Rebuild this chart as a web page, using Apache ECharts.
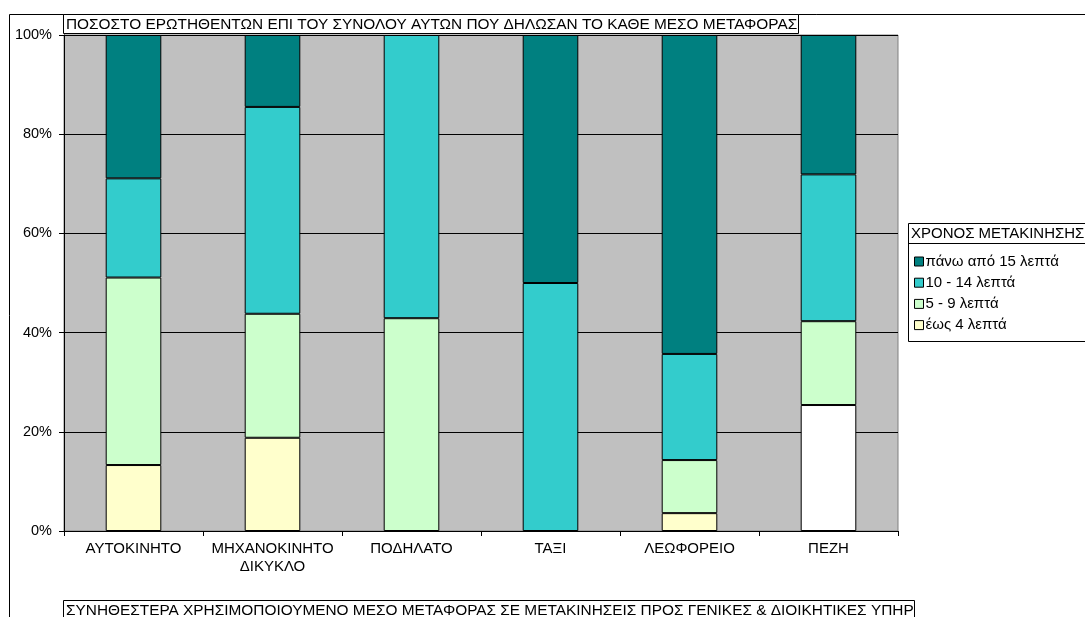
<!DOCTYPE html>
<html>
<head>
<meta charset="utf-8">
<script src="https://cdn.jsdelivr.net/npm/echarts@6/dist/echarts.min.js"></script>
<style>
  html, body { margin: 0; padding: 0; background: #fff; }
  #chart { width: 1085px; height: 617px; }
</style>
</head>
<body>
<div id="chart"></div>
<script>
// Transport mode categories (x axis)
const categories = ['ΑΥΤΟΚΙΝΗΤΟ', 'ΜΗΧΑΝΟΚΙΝΗΤΟ\nΔΙΚΥΚΛΟ', 'ΠΟΔΗΛΑΤΟ', 'ΤΑΞΙ', 'ΛΕΩΦΟΡΕΙΟ', 'ΠΕΖΗ'];

// Share (%) of respondents per travel-time band; null = no respondents
const upTo4 = [13.3, 18.8, null, null, 3.6, 25.4];
const min5to9 = [37.8, 25.0, 42.9, null, 10.7, 16.9];
const min10to14 = [20.0, 41.7, 57.1, 50.0, 21.4, 29.6];
const over15 = [28.9, 14.5, null, 50.0, 64.3, 28.1];

const seriesNames = ['έως 4 λεπτά', '5 - 9 λεπτά', '10 - 14 λεπτά', 'πάνω από 15 λεπτά'];
const yTicks = [0, 20, 40, 60, 80, 100];

const mainTitle = 'ΠΟΣΟΣΤΟ ΕΡΩΤΗΘΕΝΤΩΝ ΕΠΙ ΤΟΥ ΣΥΝΟΛΟΥ ΑΥΤΩΝ ΠΟΥ ΔΗΛΩΣΑΝ ΤΟ ΚΑΘΕ ΜΕΣΟ ΜΕΤΑΦΟΡΑΣ';
// caption as it fits inside its fixed-width box
const subTitle = 'ΣΥΝΗΘΕΣΤΕΡΑ ΧΡΗΣΙΜΟΠΟΙΟΥΜΕΝΟ ΜΕΣΟ ΜΕΤΑΦΟΡΑΣ ΣΕ ΜΕΤΑΚΙΝΗΣΕΙΣ ΠΡΟΣ ΓΕΝΙΚΕΣ & ΔΙΟΙΚΗΤΙΚΕΣ ΥΠΗΡ';
const legendTitle = 'ΧΡΟΝΟΣ ΜΕΤΑΚΙΝΗΣΗΣ';

const colors = ['#FFFFCC', '#CCFFCC', '#33CCCC', '#008080'];
const FONT = '"Liberation Sans", Arial, sans-serif';

// The walking column's shortest band is drawn in white
const upTo4Data = upTo4.map((v, i) => i === 5 ? { value: v, itemStyle: { color: '#FFFFFF' } } : v);

const allData = [upTo4Data, min5to9, min10to14, over15];

const chart = echarts.init(document.getElementById('chart'), null, { renderer: 'canvas' });

const option = {
  animation: false,
  textStyle: { fontFamily: FONT },
  title: [
    {
      text: mainTitle,
      left: 63, top: 14,
      padding: [2, 2, 1, 3],
      backgroundColor: '#fff',
      borderColor: '#000',
      borderWidth: 1,
      textStyle: { fontFamily: FONT, fontSize: 15.4, fontWeight: 'normal', color: '#000', lineHeight: 17 }
    },
    {
      text: subTitle,
      left: 63, top: 600,
      padding: [2, 1, 1, 3],
      backgroundColor: '#fff',
      borderColor: '#000',
      borderWidth: 1,
      textStyle: { fontFamily: FONT, fontSize: 15.4, fontWeight: 'normal', color: '#000', lineHeight: 17 }
    }
  ],
  graphic: [
    // outer chart frame (left and top edges)
    { type: 'polyline', silent: true, z: 0,
      shape: { points: [[9.5, 617], [9.5, 14.5], [1085, 14.5]] },
      style: { stroke: '#000', lineWidth: 1, fill: null } },
    // legend box
    { type: 'rect', silent: true, z: 0,
      shape: { x: 908.5, y: 223.5, width: 200, height: 118 },
      style: { fill: '#fff', stroke: '#000', lineWidth: 1 } },
    { type: 'line', silent: true, z: 0,
      shape: { x1: 908.5, y1: 243.5, x2: 1085, y2: 243.5 },
      style: { stroke: '#000', lineWidth: 1 } },
    { type: 'text', silent: true, z: 1,
      x: 911, y: 234,
      style: { text: legendTitle, font: '15px ' + FONT, fill: '#000', verticalAlign: 'middle' } }
  ],
  legend: {
    orient: 'vertical',
    left: 914, top: 253,
    padding: 0,
    itemWidth: 9, itemHeight: 9,
    itemGap: 4.2,
    icon: 'rect',
    data: seriesNames.slice().reverse(),
    itemStyle: { borderColor: '#000', borderWidth: 1 },
    textStyle: { fontFamily: FONT, fontSize: 15, color: '#000', lineHeight: 17, padding: [0, 0, 0, -3] },
    selectedMode: false
  },
  grid: {
    left: 64, right: 187, top: 35, bottom: 86,
    show: true,
    backgroundColor: '#C0C0C0',
    borderColor: '#808080',
    borderWidth: 1
  },
  xAxis: {
    type: 'category',
    data: categories,
    boundaryGap: true,
    axisLine: { lineStyle: { color: '#000', width: 1 } },
    axisTick: { show: true, inside: false, length: 5, lineStyle: { color: '#000' } },
    axisLabel: { fontFamily: FONT, fontSize: 15, color: '#000', margin: 9, lineHeight: 18, interval: 0 }
  },
  yAxis: {
    type: 'value',
    min: yTicks[0], max: yTicks[yTicks.length - 1], interval: 20,
    axisLine: { show: true, lineStyle: { color: '#000', width: 1 } },
    axisTick: { show: true, inside: false, length: 5, lineStyle: { color: '#000' } },
    axisLabel: { fontFamily: FONT, fontSize: 14.5, color: '#000', margin: 12, formatter: '{value}%' },
    splitLine: { show: true, lineStyle: { color: '#000', width: 1 } }
  },
  series: seriesNames.map((name, i) => ({
    name: name,
    type: 'bar',
    stack: 'total',
    barWidth: '40%',
    data: allData[i],
    itemStyle: { color: colors[i], borderColor: '#000', borderWidth: 1 }
  }))
};

chart.setOption(option);
</script>
</body>
</html>
